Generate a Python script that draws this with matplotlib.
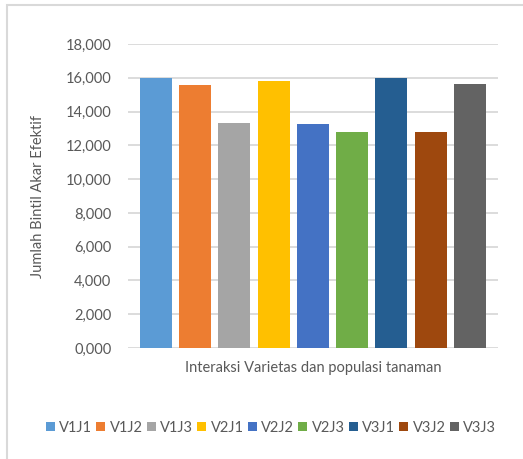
import matplotlib
matplotlib.use("Agg")
import matplotlib.pyplot as plt
from matplotlib.ticker import FuncFormatter
from matplotlib.patches import Rectangle

plt.rcParams['font.family'] = ['Lato', 'DejaVu Sans']

categories = ['V1J1', 'V1J2', 'V1J3', 'V2J1', 'V2J2', 'V2J3', 'V3J1', 'V3J2', 'V3J3']
values = [16000, 15570, 13300, 15800, 13240, 12770, 16000, 12770, 15620]
colors = ['#5B9BD5', '#ED7D31', '#A5A5A5', '#FFC000', '#4472C4',
          '#70AD47', '#255E91', '#9E480E', '#636363']
y_ticks = list(range(0, 18001, 2000))

fig = plt.figure(figsize=(5.23, 4.59), dpi=100)
ax = fig.add_axes([0.2447, 0.2418, 0.7073, 0.6623])

# outer chart border (only left and top edges visible in the crop)
fig.patches.append(Rectangle((7 / 523, -0.1), 1.2, (1 - 5 / 459) + 0.1,
                             transform=fig.transFigure, fill=False,
                             edgecolor='#D9D9D9', linewidth=1.5))

x = range(len(categories))
bars = ax.bar(x, values, width=0.815, color=colors, zorder=3)

ax.set_xlim(-0.713, len(categories) - 1 + 0.713)
ax.set_ylim(0, 18000)
ax.set_yticks(y_ticks)
ax.yaxis.set_major_formatter(FuncFormatter(lambda v, p: f"{int(v) // 1000},000"))
ax.set_xticks([])
ax.grid(axis='y', color='#D9D9D9', linewidth=1.3, zorder=0)
for s in ax.spines.values():
    s.set_visible(False)
ax.tick_params(axis='y', length=0, labelsize=10.5, labelcolor='#595959', pad=12)

ax.set_ylabel('Jumlah Bintil Akar Efektif', fontsize=10.5, color='#595959', labelpad=15)
ax.set_xlabel('Interaksi Varietas dan populasi tanaman', fontsize=10.5,
              color='#595959', labelpad=9)

fig.legend(bars, categories, loc='center', bbox_to_anchor=(0.518, 1 - 428 / 459),
           ncol=9, frameon=False, fontsize=10.5, handlelength=0.6, handleheight=0.6,
           handletextpad=0.3, columnspacing=0.3, labelcolor='#595959')

fig.savefig('out.png', dpi=100)
